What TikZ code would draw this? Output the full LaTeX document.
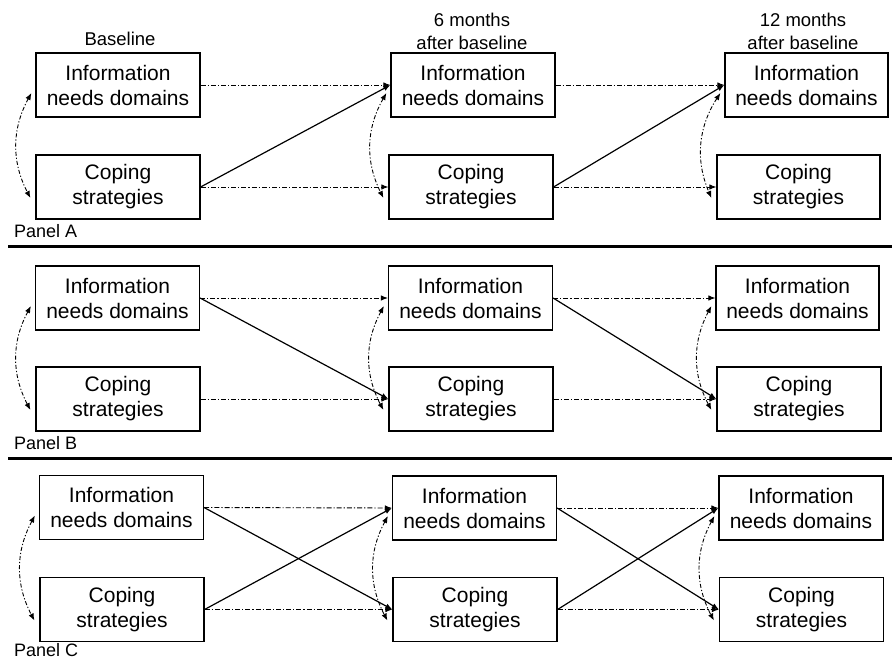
\documentclass[tikz,border=0pt]{standalone}
\usepackage{fontspec}
\setmainfont{Liberation Sans}
\usetikzlibrary{arrows.meta,calc}
\begin{document}
\begin{tikzpicture}[x=1pt,y=-1pt,
  box/.style={draw,line width=1.2pt,minimum width=164pt,minimum height=64pt,inner sep=0pt,align=center,font=\fontsize{21}{25}\selectfont},
  lbl/.style={align=center,font=\fontsize{18.5}{23}\selectfont,inner sep=0pt},
  plbl/.style={anchor=west,font=\fontsize{18}{21}\selectfont,inner sep=0pt},
  dd/.style={line width=0.9pt,dash pattern=on 5pt off 2pt on 1.2pt off 2pt,-{Latex[length=7pt,width=5.5pt]}},
  sol/.style={line width=1.2pt,-{Latex[length=7pt,width=5.5pt]}},
  curv/.style={line width=0.9pt,dash pattern=on 4pt off 2pt on 1.2pt off 2pt,{Latex[length=7pt,width=5.5pt]}-{Latex[length=7pt,width=5.5pt]},bend right=28},
  sep/.style={line width=3pt}]
\useasboundingbox (0,0) rectangle (892,660);

% column labels
\node[lbl] (lb1) at (120,39) {Baseline};
\node[lbl] (lb2) at (472,31) {6 months\\after baseline};
\node[lbl] (lb3) at (803,31) {12 months\\after baseline};

% Panel A
\node[box] (A1i) at (118,85) {Information\\needs domains};
\node[box] (A1c) at (118,187) {Coping\\strategies};
\node[box] (A2i) at (473,85) {Information\\needs domains};
\node[box] (A2c) at (471,187) {Coping\\strategies};
\node[box,minimum width=163pt] (A3i) at (806.5,85) {Information\\needs domains};
\node[box,minimum width=163pt] (A3c) at (798.5,187) {Coping\\strategies};
\node[plbl] (pA) at (14,231) {Panel A};

% Panel B
\node[box] (B1i) at (117.5,298) {Information\\needs domains};
\node[box] (B1c) at (118,399) {Coping\\strategies};
\node[box] (B2i) at (470.5,298) {Information\\needs domains};
\node[box] (B2c) at (471,399) {Coping\\strategies};
\node[box,minimum width=163pt] (B3i) at (797.5,298) {Information\\needs domains};
\node[box] (B3c) at (799,399) {Coping\\strategies};
\node[plbl] (pB) at (14,443) {Panel B};

% Panel C
\node[box] (C1i) at (121.5,507.5) {Information\\needs domains};
\node[box] (C1c) at (122,609.5) {Coping\\strategies};
\node[box] (C2i) at (474.5,508) {Information\\needs domains};
\node[box] (C2c) at (475,609.5) {Coping\\strategies};
\node[box] (C3i) at (801,508) {Information\\needs domains};
\node[box] (C3c) at (801.5,609.5) {Coping\\strategies};
\node[plbl] (pC) at (14,650) {Panel C};

% separators
\coordinate (s1a) at (8,247); \coordinate (s1b) at (892,247);
\coordinate (s2a) at (8,458); \coordinate (s2b) at (892,458);
\draw[sep] (s1a) -- (s1b);
\draw[sep] (s2a) -- (s2b);

% horizontal stability paths
\foreach \p in {A,B,C}{
  \draw[dd] (\p1i.east) -- (\p2i.west);
  \draw[dd] (\p2i.east) -- (\p3i.west);
  \draw[dd] (\p1c.east) -- (\p2c.west);
  \draw[dd] (\p2c.east) -- (\p3c.west);
  \foreach \k in {1,2,3}{
    \coordinate (\p\k t) at ($(\p\k i.west)+(-4,8)$);
    \coordinate (\p\k b) at ($(\p\k c.west)+(-5,11)$);
    \draw[curv] (\p\k t) to (\p\k b);
  }
}

% Panel A: coping -> information
\draw[sol] (A1c.east) -- (A2i.west);
\draw[sol] (A2c.east) -- (A3i.west);
% Panel B: information -> coping
\draw[sol] (B1i.east) -- (B2c.west);
\draw[sol] (B2i.east) -- (B3c.west);
% Panel C: both
\draw[sol] (C1c.east) -- (C2i.west);
\draw[sol] (C2c.east) -- (C3i.west);
\draw[sol] (C1i.east) -- (C2c.west);
\draw[sol] (C2i.east) -- (C3c.west);
\end{tikzpicture}
\end{document}
